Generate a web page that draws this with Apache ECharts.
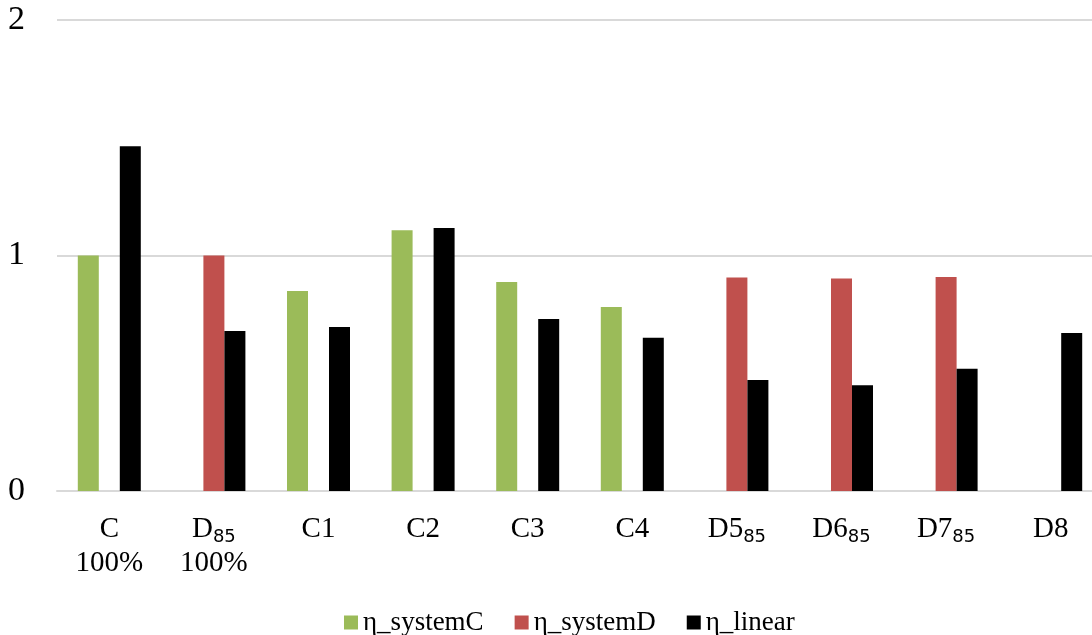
<!DOCTYPE html>
<html>
<head>
<meta charset="utf-8">
<script src="https://cdn.jsdelivr.net/npm/echarts@6/dist/echarts.min.js"></script>
<style>
  html, body { margin: 0; padding: 0; background: #fff; overflow: hidden; }
  /* plot runs slightly past the right edge of the window */
  #chart { width: 1103px; height: 635px; }
</style>
</head>
<body>
<div id="chart"></div>
<script>
// Category labels: main text, subscript, optional second line
const catMain = ['C', 'D', 'C1', 'C2', 'C3', 'C4', 'D5', 'D6', 'D7', 'D8'];
const catSub = ['', '85', '', '', '', '', '85', '85', '85', ''];
const catLine2 = ['100%', '100%', '', '', '', '', '', '', '', ''];

// Efficiency values per configuration
const systemC = [1.0, null, 0.849, 1.107, 0.887, 0.781, null, null, null, null];
const systemD = [null, 1.0, null, null, null, null, 0.907, 0.902, 0.909, null];
const linear = [1.464, 0.679, 0.696, 1.117, 0.730, 0.651, 0.471, 0.449, 0.519, 0.671];

const seriesNames = ['η_systemC', 'η_systemD', 'η_linear'];
const seriesColors = ['#9BBB59', '#C0504D', '#000000'];
const yTicks = { min: 0, max: 2, interval: 1 };

const categories = catMain.map((m, i) => i);

const serif = 'Liberation Serif';

const chart = echarts.init(document.getElementById('chart'), null, { renderer: 'canvas' });

function catLabel(idx) {
  const i = Number(idx);
  let s = '{m|' + catMain[i] + '}';
  if (catSub[i]) s += '{s|' + catSub[i] + '}';
  if (catLine2[i]) s += '\n{m|' + catLine2[i] + '}';
  return s;
}

const seriesData = [systemC, systemD, linear];

chart.setOption({
  animation: false,
  backgroundColor: '#ffffff',
  grid: { left: 57, right: 0, top: 20, bottom: 144 },
  legend: {
    left: 339,
    top: 604,
    itemWidth: 14,
    itemHeight: 14,
    itemGap: 31,
    icon: 'rect',
    textStyle: { fontFamily: serif, fontSize: 27, color: '#000' },
    data: seriesNames
  },
  xAxis: {
    type: 'category',
    data: categories,
    axisLine: { show: true, lineStyle: { color: '#d9d9d9', width: 2 } },
    axisTick: { show: false },
    axisLabel: {
      interval: 0,
      margin: 21,
      formatter: catLabel,
      rich: {
        m: { fontFamily: serif, fontSize: 29, lineHeight: 34, color: '#000' },
        s: { fontFamily: 'DejaVu Sans', fontSize: 18, lineHeight: 22, verticalAlign: 'bottom', color: '#000' }
      }
    }
  },
  yAxis: {
    type: 'value',
    min: yTicks.min,
    max: yTicks.max,
    interval: yTicks.interval,
    axisLine: { show: false },
    axisTick: { show: false },
    axisLabel: { fontFamily: serif, fontSize: 34, color: '#000', margin: 32 },
    splitLine: { lineStyle: { color: '#d9d9d9', width: 2 } }
  },
  series: seriesNames.map((name, k) => ({
    name: name,
    type: 'bar',
    data: seriesData[k],
    barWidth: 21,
    barGap: '0%',
    itemStyle: { color: seriesColors[k] }
  }))
});
</script>
</body>
</html>
